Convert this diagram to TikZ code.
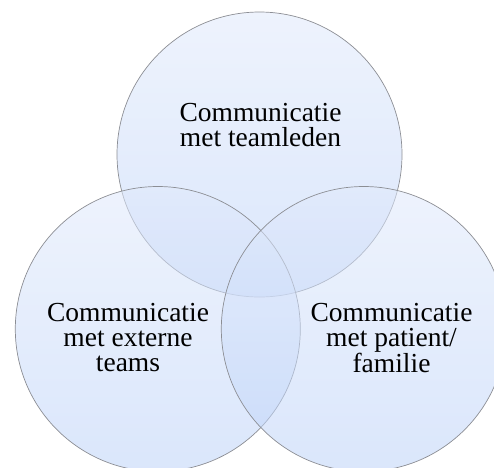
\documentclass[tikz,border=0pt]{standalone}
\usepackage{fontspec}
\setmainfont{Liberation Serif}
\usepackage{tikz}
\usetikzlibrary{positioning}

\definecolor{ringtop}{RGB}{224,233,251}
\definecolor{ringbot}{RGB}{188,210,248}
\definecolor{ringline}{RGB}{140,142,148}

\begin{document}
\begin{tikzpicture}[x=1pt, y=-1pt,
    ring/.style={circle, minimum size=285pt, inner sep=0pt, draw=ringline, line width=0.7pt,
        fill opacity=0.55, draw opacity=1, top color=ringtop, bottom color=ringbot},
    ringtext/.style={align=center, text=black, font=\fontsize{27.5}{25}\selectfont}]

% Canvas
\clip (0,0) rectangle (494,467);

% Three overlapping circles
\node[ring] (teamleden) at (259.5,154.5) {};
\node[ring] (extern) at (157.8,329) {};
\node[ring] (patient) at (363.8,329) {};

% Circle labels
\node[ringtext] (teamledenTxt) at (260.5,125) {Communicatie\\met teamleden};
\node[ringtext] (externTxt) at (128,338) {Communicatie\\met externe\\teams};
\node[ringtext] (patientTxt) at (391.5,338) {Communicatie\\met patient/\\familie};

\end{tikzpicture}
\end{document}
